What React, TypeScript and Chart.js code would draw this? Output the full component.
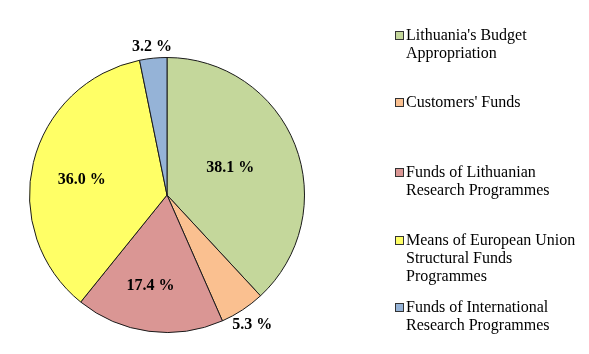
import React, { useEffect, useRef } from "react";
import { Chart, registerables } from "chart.js";

Chart.register(...registerables);

const categories: string[][] = [
  ["Lithuania's Budget", "Appropriation"],
  ["Customers' Funds"],
  ["Funds of Lithuanian", "Research Programmes"],
  ["Means of European Union", "Structural Funds", "Programmes"],
  ["Funds of International", "Research Programmes"],
];
const values: number[] = [38.1, 5.3, 17.4, 36.0, 3.2];
const valueLabels: string[] = ["38.1 %", "5.3 %", "17.4 %", "36.0 %", "3.2 %"];
const colors: string[] = ["#C4D79B", "#FAC090", "#DA9694", "#FFFF66", "#95B3D7"];

// label placement: fraction along the slice angle, fraction of radius
const labelAngleFrac = [0.487, 0.5, 0.545, 0.47, 0.5];
const labelRadiusFrac = [0.5, 1.13, 0.67, 0.63, 1.08];
const legendTops = [26, 93, 163, 231, 298];

const FONT = '"Liberation Serif", "Times New Roman", serif';

const labelPlugin = {
  id: "sliceLabels",
  afterDatasetsDraw(chart: any) {
    const ctx = chart.ctx;
    const meta = chart.getDatasetMeta(0);
    ctx.save();
    ctx.font = `bold 16px ${FONT}`;
    ctx.fillStyle = "#000";
    ctx.textAlign = "center";
    ctx.textBaseline = "middle";
    meta.data.forEach((arc: any, i: number) => {
      const { x, y, startAngle, endAngle, outerRadius } = arc.getProps(
        ["x", "y", "startAngle", "endAngle", "outerRadius"],
        true
      );
      const a = startAngle + (endAngle - startAngle) * labelAngleFrac[i];
      const r = outerRadius * labelRadiusFrac[i];
      ctx.fillText(valueLabels[i], x + Math.cos(a) * r, y + Math.sin(a) * r);
    });
    ctx.restore();
  },
};

export default function App() {
  const ref = useRef<HTMLCanvasElement | null>(null);
  useEffect(() => {
    document.body.style.margin = "0";
    if (!ref.current) return;
    const chart = new Chart(ref.current, {
      type: "pie",
      data: {
        labels: categories.map((c) => c.join(" ")),
        datasets: [
          {
            data: values,
            backgroundColor: colors,
            borderColor: "#1a1a1a",
            borderWidth: 1,
          },
        ],
      },
      options: {
        animation: false,
        responsive: false,
        maintainAspectRatio: false,
        layout: { padding: { left: 29, right: 284, top: 57, bottom: 21 } },
        plugins: {
          legend: { display: false },
          tooltip: { enabled: false },
        },
      },
      plugins: [labelPlugin],
    });
    return () => chart.destroy();
  }, []);

  return (
    <div style={{ position: "relative", width: 589, height: 354, background: "#fff" }}>
      <canvas ref={ref} width={589} height={354} style={{ position: "absolute", left: 0, top: 0 }} />
      {categories.map((lines, i) => (
        <div
          key={i}
          style={{
            position: "absolute",
            left: 395,
            top: legendTops[i],
            fontFamily: FONT,
            fontSize: 16,
            lineHeight: "18px",
            color: "#000",
          }}
        >
          <div
            style={{
              position: "absolute",
              left: 0,
              top: 5,
              width: 7,
              height: 7,
              background: colors[i],
              border: "1px solid #333",
            }}
          />
          <div style={{ marginLeft: 11, whiteSpace: "nowrap" }}>
            {lines.map((l, j) => (
              <div key={j}>{l}</div>
            ))}
          </div>
        </div>
      ))}
    </div>
  );
}
